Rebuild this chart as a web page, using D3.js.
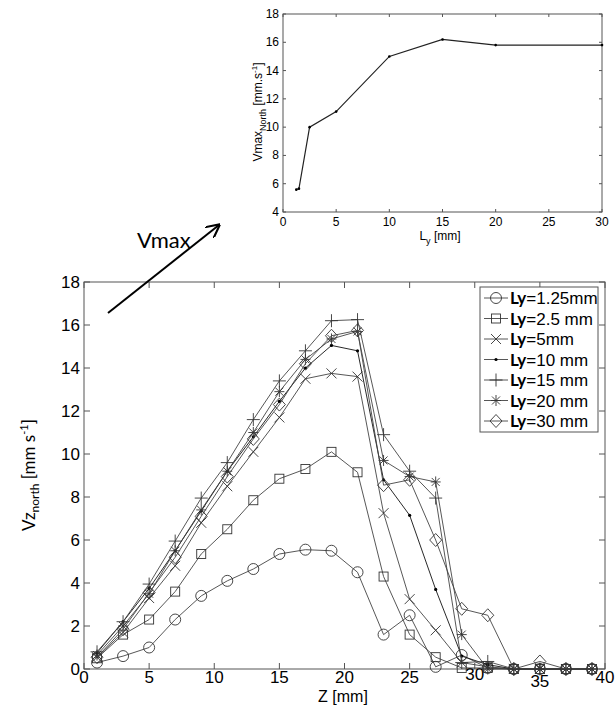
<!DOCTYPE html>
<html>
<head>
<meta charset="utf-8">
<script src="https://cdn.jsdelivr.net/npm/d3@7"></script>
<style>
  body { margin: 0; background: #fff; }
  svg { display: block; }
</style>
</head>
<body>
<div id="chart"></div>
<script>
// canvas
const width = 616;
const height = 705;

// main plot data: Vz north vs Z for each Ly
const zVals = [1, 3, 5, 7, 9, 11, 13, 15, 17, 19, 21, 23, 25, 27, 29, 31, 33, 35, 37, 39];
const ly125 = [0.3, 0.6, 1.0, 2.3, 3.4, 4.1, 4.65, 5.35, 5.55, 5.5, 4.5, 1.6, 2.5, 0.1, 0.65, 0.05, 0, 0, 0, 0];
const ly25  = [0.5, 1.6, 2.3, 3.6, 5.35, 6.5, 7.85, 8.85, 9.3, 10.1, 9.15, 4.3, 1.6, 0.55, 0.05, 0.05, 0, 0, 0, 0];
const ly5   = [0.55, 1.7, 3.3, 4.8, 6.8, 8.5, 10.1, 11.7, 13.5, 13.75, 13.6, 7.25, 3.25, 1.8, 0.3, 0.1, 0, 0, 0, 0];
const ly10  = [0.75, 2.2, 3.75, 5.5, 7.35, 9.2, 10.8, 12.45, 14.0, 15.05, 14.8, 8.8, 7.15, 3.7, 0.6, 0.2, 0, 0, 0, 0];
const ly15  = [0.8, 2.2, 3.95, 5.95, 7.95, 9.6, 11.6, 13.4, 14.8, 16.2, 16.25, 10.9, 9.2, 7.95, 0.3, 0.35, 0, 0, 0, 0];
const ly20  = [0.65, 2.0, 3.5, 5.5, 7.4, 9.2, 11.0, 12.9, 14.4, 15.35, 15.7, 9.7, 8.95, 8.7, 1.6, 0.0, 0, 0, 0, 0];
const ly30  = [0.55, 1.85, 3.55, 5.2, 7.1, 8.95, 10.7, 12.3, 14.2, 15.5, 15.75, 8.55, 8.8, 6.0, 2.8, 2.5, 0, 0.35, 0, 0];

const seriesNames = ["=1.25mm", "=2.5 mm", "=5mm", "=10 mm", "=15 mm", "=20 mm", "=30 mm"];
const seriesMarkers = ["circle", "square", "cross", "dot", "plus", "star", "diamond"];
const seriesValues = [ly125, ly25, ly5, ly10, ly15, ly20, ly30];

const mainXTicks = [0, 5, 10, 15, 20, 25, 30, 35, 40];
const mainYTicks = [0, 2, 4, 6, 8, 10, 12, 14, 16, 18];

// inset data: Vmax north vs Ly
const insetLy   = [1.25, 1.5, 2.5, 5, 10, 15, 20, 30];
const insetVmax = [5.58, 5.65, 10.0, 11.1, 15.0, 16.2, 15.8, 15.8];
const insetXTicks = [0, 5, 10, 15, 20, 25, 30];
const insetYTicks = [4, 6, 8, 10, 12, 14, 16, 18];

const svg = d3.select("#chart")
    .append("svg")
    .attr("width", width)
    .attr("height", height);

const tickFont = "'Liberation Sans', Arial, sans-serif";
const labelFont = "Lato, 'Open Sans', sans-serif";
const frameColor = "#555";

// ---------- main plot ----------
const x = d3.scaleLinear().domain([0, 40]).range([84, 605]);
const y = d3.scaleLinear().domain([0, 18]).range([669, 282]);

// box with inward ticks on all four sides (matlab style)
function frame(g, xs, ys, xt, yt, tickLen) {
  const [x0, x1] = xs.range();
  const [y0, y1] = ys.range();
  g.append("rect")
    .attr("x", x0).attr("y", y1)
    .attr("width", x1 - x0).attr("height", y0 - y1)
    .attr("fill", "none").attr("stroke", frameColor).attr("stroke-width", 1);
  [y1, y0].forEach((yy, k) => {
    g.append("g").selectAll("line").data(xt).enter()
      .append("line")
      .attr("x1", d => xs(d)).attr("x2", d => xs(d))
      .attr("y1", yy).attr("y2", k ? yy - tickLen : yy + tickLen)
      .attr("stroke", frameColor);
  });
  [x0, x1].forEach((xx, k) => {
    g.append("g").selectAll("line").data(yt).enter()
      .append("line")
      .attr("y1", d => ys(d)).attr("y2", d => ys(d))
      .attr("x1", xx).attr("x2", k ? xx - tickLen : xx + tickLen)
      .attr("stroke", frameColor);
  });
}

const main = svg.append("g");
frame(main, x, y, mainXTicks, mainYTicks, 6);

main.append("g").selectAll("text").data(mainXTicks).enter()
  .append("text")
  .attr("x", d => x(d))
  .attr("y", d => y(0) + 14 + (d === 35 ? 4 : d === 30 ? -3 : 0))
  .attr("text-anchor", "middle")
  .attr("font-family", tickFont).attr("font-size", 17)
  .text(d => d);

main.append("g").selectAll("text").data(mainYTicks).enter()
  .append("text")
  .attr("x", x(0) - 4)
  .attr("y", d => y(d) + 6)
  .attr("text-anchor", "end")
  .attr("font-family", tickFont).attr("font-size", 17)
  .text(d => d);

main.append("text")
  .attr("x", 343).attr("y", 702)
  .attr("text-anchor", "middle")
  .attr("font-family", tickFont).attr("font-size", 16)
  .text("Z [mm]");

const yl = main.append("text")
  .attr("transform", "translate(35,475) rotate(-90)")
  .attr("text-anchor", "middle")
  .attr("font-family", labelFont).attr("font-size", 17);
yl.append("tspan").text("Vz");
yl.append("tspan").attr("font-size", 12).attr("dy", 4).text("north");
yl.append("tspan").attr("dy", -4).text(" [mm s");
yl.append("tspan").attr("font-size", 11).attr("dy", -7).text("-1");
yl.append("tspan").attr("dy", 7).text("]");

// marker drawing
function drawMarker(g, type) {
  g.attr("fill", "none").attr("stroke", "#333").attr("stroke-width", 0.9);
  if (type === "circle") g.append("circle").attr("r", 5.5);
  if (type === "square") g.append("rect").attr("x", -4.5).attr("y", -4.5).attr("width", 9).attr("height", 9);
  if (type === "cross") g.append("path").attr("d", "M-5,-5L5,5M-5,5L5,-5");
  if (type === "dot") g.append("circle").attr("r", 1.6).attr("fill", "#000").attr("stroke", "none");
  if (type === "plus") g.append("path").attr("d", "M-6.5,0L6.5,0M0,-6.5L0,6.5");
  if (type === "star") g.append("path").attr("d", "M-5,0L5,0M0,-5.5L0,5.5M-4,-4L4,4M-4,4L4,-4");
  if (type === "diamond") g.append("path").attr("d", "M0,-6.5L6,0L0,6.5L-6,0Z");
}

const line = d3.line().x(d => x(d[0])).y(d => y(d[1]));

seriesValues.forEach((vals, i) => {
  const pts = zVals.map((z, j) => [z, vals[j]]);
  main.append("path")
    .attr("d", line(pts))
    .attr("fill", "none")
    .attr("stroke", seriesMarkers[i] === "dot" ? "#111" : "#444")
    .attr("stroke-width", 0.9);
  pts.forEach(p => {
    const m = main.append("g").attr("transform", `translate(${x(p[0])},${y(p[1])})`);
    drawMarker(m, seriesMarkers[i]);
  });
});

// legend
const leg = svg.append("g");
const legX = 480, legY = 287, rowH = 20.5;
leg.append("rect")
  .attr("x", legX).attr("y", legY)
  .attr("width", 118).attr("height", 145)
  .attr("fill", "#fff").attr("stroke", frameColor);
seriesNames.forEach((name, i) => {
  const cy = legY + 11 + i * rowH;
  leg.append("line")
    .attr("x1", legX + 4).attr("x2", legX + 28)
    .attr("y1", cy).attr("y2", cy)
    .attr("stroke", "#444").attr("stroke-width", 0.9);
  const m = leg.append("g").attr("transform", `translate(${legX + 16},${cy})`);
  drawMarker(m, seriesMarkers[i]);
  const t = leg.append("text")
    .attr("x", legX + 30).attr("y", cy + 6)
    .attr("font-size", 17);
  t.append("tspan").attr("font-family", labelFont).attr("font-weight", "bold").text("Ly");
  t.append("tspan").attr("font-family", tickFont).text(name);
});

// ---------- inset ----------
const xi = d3.scaleLinear().domain([0, 30]).range([283, 602]);
const yi = d3.scaleLinear().domain([4, 18]).range([212, 14]);

const inset = svg.append("g");
frame(inset, xi, yi, insetXTicks, insetYTicks, 3);

inset.append("g").selectAll("text").data(insetXTicks).enter()
  .append("text")
  .attr("x", d => xi(d))
  .attr("y", yi(4) + 14)
  .attr("text-anchor", "middle")
  .attr("font-family", tickFont).attr("font-size", 12)
  .text(d => d);

inset.append("g").selectAll("text").data(insetYTicks).enter()
  .append("text")
  .attr("x", xi(0) - 4)
  .attr("y", d => yi(d) + 4)
  .attr("text-anchor", "end")
  .attr("font-family", tickFont).attr("font-size", 12)
  .text(d => d);

const xil = inset.append("text")
  .attr("x", 440).attr("y", 240)
  .attr("text-anchor", "middle")
  .attr("font-family", tickFont).attr("font-size", 12);
xil.append("tspan").text("L");
xil.append("tspan").attr("font-size", 9).attr("dy", 4).text("y");
xil.append("tspan").attr("dy", -4).text(" [mm]");

const yil = inset.append("text")
  .attr("transform", "translate(262,112) rotate(-90)")
  .attr("text-anchor", "middle")
  .attr("font-family", tickFont).attr("font-size", 12);
yil.append("tspan").text("Vmax");
yil.append("tspan").attr("font-size", 9).attr("dy", 4).text("North");
yil.append("tspan").attr("dy", -4).text(" [mm.s");
yil.append("tspan").attr("font-size", 8).attr("dy", -5).text("-1");
yil.append("tspan").attr("dy", 5).text("]");

const lineI = d3.line().x(d => xi(d[0])).y(d => yi(d[1]));
const insetPts = insetLy.map((l, j) => [l, insetVmax[j]]);
inset.append("path")
  .attr("d", lineI(insetPts))
  .attr("fill", "none").attr("stroke", "#222").attr("stroke-width", 1.2);
inset.append("g").selectAll("circle").data(insetPts).enter()
  .append("circle")
  .attr("cx", d => xi(d[0])).attr("cy", d => yi(d[1]))
  .attr("r", 1.3).attr("fill", "#000");

// ---------- Vmax arrow ----------
svg.append("defs").append("marker")
  .attr("id", "arrow")
  .attr("viewBox", "0 0 10 10")
  .attr("refX", 9).attr("refY", 5)
  .attr("markerWidth", 7).attr("markerHeight", 7)
  .attr("orient", "auto")
  .append("path")
  .attr("d", "M0,0L10,5L0,10")
  .attr("fill", "none").attr("stroke", "#000").attr("stroke-width", 1.5);

svg.append("line")
  .attr("x1", 108).attr("y1", 313)
  .attr("x2", 219).attr("y2", 225)
  .attr("stroke", "#000").attr("stroke-width", 2)
  .attr("marker-end", "url(#arrow)");

svg.append("text")
  .attr("x", 137).attr("y", 248)
  .attr("font-family", labelFont).attr("font-size", 22)
  .text("Vmax");
</script>
</body>
</html>
